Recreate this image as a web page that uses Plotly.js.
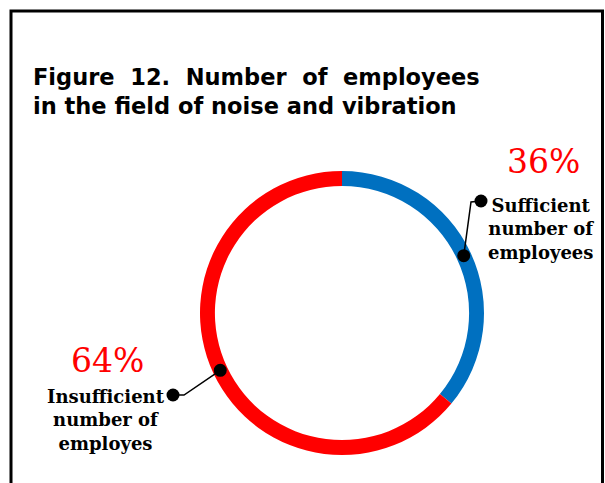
<!DOCTYPE html>
<html>
<head>
<meta charset="utf-8">
<script src="https://cdn.plot.ly/plotly-3.0.1.min.js"></script>
<style>html,body{margin:0;padding:0;background:#fff;}#chart{width:605px;height:483px;}</style>
</head>
<body>
<div id="chart"></div>
<script>
// ---- data ----
var categories = ["Sufficient number of employees", "Insufficient number of employees"];
var labelTexts = ["Sufficient<br>number of<br>employees", "Insufficient<br>number of<br>employes"];
var values = [36, 64];
var percentTexts = ["36%", "64%"];
var colors = ["#0070C0", "#FF0000"];
var titleText = "Figure\u00a0\u00a012.\u00a0\u00a0Number\u00a0\u00a0of\u00a0\u00a0employees<br>in the field of noise and vibration";

// ---- layout geometry (pixels) ----
var W = 605, H = 483;
var cx = 342, cy = 313, rOuter = 142, hole = 0.895;
var rMid = rOuter * (1 + hole) / 2;

var pieDomainX = [(cx - rOuter) / W, (cx + rOuter) / W];
var pieDomainY = [1 - (cy + rOuter) / H, 1 - (cy - rOuter) / H];

// slice mid angles (clockwise from 12 o'clock)
var total = values.reduce(function(a, b){ return a + b; }, 0);
var cum = 0, mids = [];
values.forEach(function(v){ mids.push((cum + v / 2) / total * 2 * Math.PI); cum += v; });
var ringPts = mids.map(function(a){ return [cx + rMid * Math.sin(a), cy - rMid * Math.cos(a)]; });

// leader line elbows and end dots
var elbows = [[471, 202], [184, 395]];
var ends = [[481, 201], [173, 395]];
var pctPos = [[543, 162], [107, 360]];
var labelPos = [[541, 229], [106, 420]];

function px(x){ return x / W; }
function py(y){ return 1 - y / H; }

var traces = [{
  type: "pie",
  values: values,
  labels: categories,
  marker: {colors: colors, line: {width: 0}},
  hole: hole,
  sort: false,
  direction: "clockwise",
  rotation: 0,
  textinfo: "none",
  hoverinfo: "label+percent",
  showlegend: false,
  domain: {x: pieDomainX, y: pieDomainY}
}];

var shapes = [{
  type: "path", xref: "paper", yref: "paper", layer: "above",
  path: "M " + px(11) + "," + py(540) + " L " + px(11) + "," + py(11) +
        " L " + px(602.5) + "," + py(11) + " L " + px(602.5) + "," + py(540),
  line: {color: "#000", width: 3}
}];

var annotations = [];
var dotR = 6.5;
for (var j = 0; j < values.length; j++) {
  shapes.push({
    type: "path", xref: "paper", yref: "paper", layer: "above",
    path: "M " + px(ringPts[j][0]) + "," + py(ringPts[j][1]) +
          " L " + px(elbows[j][0]) + "," + py(elbows[j][1]) +
          " L " + px(ends[j][0]) + "," + py(ends[j][1]),
    line: {color: "#000", width: 1.5}
  });
  [ringPts[j], ends[j]].forEach(function(p){
    shapes.push({
      type: "circle", xref: "paper", yref: "paper", layer: "above",
      x0: px(p[0] - dotR), x1: px(p[0] + dotR), y0: py(p[1] + dotR), y1: py(p[1] - dotR),
      fillcolor: "#000", line: {width: 0}
    });
  });
  annotations.push({
    xref: "paper", yref: "paper", x: px(pctPos[j][0]), y: py(pctPos[j][1]),
    text: percentTexts[j], showarrow: false, xanchor: "center", yanchor: "middle",
    font: {family: "DejaVu Serif", size: 33, color: "#FF0000"}
  });
  annotations.push({
    xref: "paper", yref: "paper", x: px(labelPos[j][0]), y: py(labelPos[j][1]),
    text: labelTexts[j], showarrow: false, xanchor: "center", yanchor: "middle", align: "center",
    font: {family: "DejaVu Serif", size: 18, color: "#000", weight: "bold"}
  });
}

var layout = {
  width: W, height: H,
  margin: {l: 0, r: 0, t: 0, b: 0},
  paper_bgcolor: "#fff", plot_bgcolor: "rgba(0,0,0,0)",
  title: {
    text: titleText,
    x: 33 / W, xanchor: "left",
    y: 1 - 85 / H, yanchor: "top", yref: "container",
    font: {family: "DejaVu Sans", size: 22.5, color: "#000", weight: "bold"}
  },
  showlegend: false,
  annotations: annotations,
  shapes: shapes
};

Plotly.newPlot("chart", traces, layout, {displayModeBar: false, staticPlot: true});
</script>
</body>
</html>
